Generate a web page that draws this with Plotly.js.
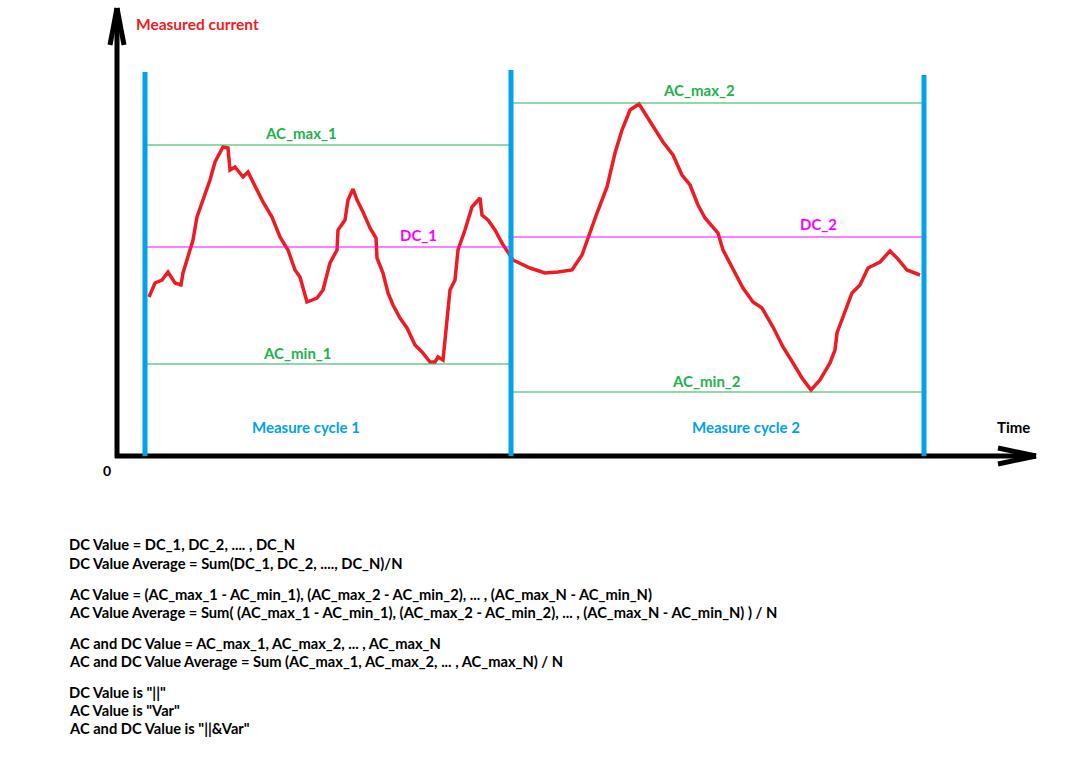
<!DOCTYPE html>
<html><head><meta charset="utf-8">
<script src="https://cdn.plot.ly/plotly-3.0.1.min.js"></script>
<style>html,body{margin:0;padding:0;background:#fff;}#chart{width:1072px;height:757px;}</style>
</head><body><div id="chart"></div>
<script>
// measured current curve (time, current) (pixel-space units)
const curveT = [149,155,162,168,175,181,183,188,193,197,203,210,215,223,228,230,235,243,248,257,263,272,280,288,295,300,307,317,323,330,337,338,345,348,353,357,363,370,376,377,383,388,393,400,407,415,422,430,435,438,443,447,450,455,458,465,472,480,482,488,495,502,508,513,530,545,558,572,582,588,597,607,615,622,630,639,647,657,663,673,682,690,698,705,718,723,735,743,753,762,773,783,793,802,811,820,830,835,837,843,852,860,868,880,890,897,907,920];
const curveI = [297,283,280,272,283,285,273,257,240,217,200,180,162,147,148,170,167,177,172,190,202,217,237,250,270,277,302,298,290,263,250,230,220,200,189,200,212,228,238,258,273,293,305,318,328,345,352,362,362,357,360,320,290,280,250,230,207,198,215,220,230,243,253,260,268,273,272,270,255,238,213,187,153,130,110,104,117,132,142,155,175,185,205,218,233,250,273,288,302,308,327,347,363,378,390,380,363,350,333,317,293,285,268,262,251,258,270,275];

// measure cycles: boundaries and levels
const cycleTop   = [72, 70, 75];
const boundaryX  = [145, 511, 924];
const acMax = [145, 103];
const acMin = [364, 392];
const dcLvl = [247, 237];
const levelStart = [145, 513];
const dcStart = [145, 508];
const levelEnd = [509, 922];
const acMaxNames = ["AC_max_1", "AC_max_2"];
const acMinNames = ["AC_min_1", "AC_min_2"];
const dcNames = ["DC_1", "DC_2"];
const acMaxLabelX = [301, 699];
const acMinLabelX = [297, 706];
const dcLabelX = [418, 818];
const cycleNames = ["Measure cycle 1", "Measure cycle 2"];
const cycleLabelX = [306, 746];
const axisOrigin = [117, 456];

const notes = [
  "DC Value = DC_1, DC_2, .... , DC_N",
  "DC Value Average = Sum(DC_1, DC_2, ...., DC_N)/N",
  "AC Value = (AC_max_1 - AC_min_1), (AC_max_2 - AC_min_2), ... , (AC_max_N - AC_min_N)",
  "AC Value Average = Sum( (AC_max_1 - AC_min_1), (AC_max_2 - AC_min_2), ... , (AC_max_N - AC_min_N) ) / N",
  "AC and DC Value = AC_max_1, AC_max_2, ... , AC_max_N",
  "AC and DC Value Average = Sum (AC_max_1, AC_max_2, ... , AC_max_N) / N",
  "DC Value is \"||\"",
  "AC Value is \"Var\"",
  "AC and DC Value is \"||&Var\""
];
const noteY = [544, 563, 594, 612, 643, 661, 692, 710, 728];

const RED = "#ED1C24", BLUE = "#00A2E8", GREEN = "#22B14C", MAG = "#FF00FF";
const FONT = "Lato, 'Open Sans', sans-serif";

const shapes = [];
const line = (x0,y0,x1,y1,color,width) => shapes.push({type:"line",xref:"x",yref:"y",x0,y0,x1,y1,line:{color,width}});

// axes
line(axisOrigin[0], axisOrigin[1]+2, axisOrigin[0], 8, "#000", 5);
line(axisOrigin[0], 8, 110, 45, "#000", 5);
line(axisOrigin[0], 8, 124, 45, "#000", 5);
line(axisOrigin[0]-2, axisOrigin[1], 1036, axisOrigin[1], "#000", 5);
line(1036, axisOrigin[1], 998, 448, "#000", 5);
line(1036, axisOrigin[1], 998, 464, "#000", 5);

// levels
for (let i = 0; i < 2; i++) {
  line(levelStart[i], acMax[i], levelEnd[i], acMax[i], GREEN, 1);
  line(levelStart[i]-2, acMin[i], levelEnd[i], acMin[i], GREEN, 1);
  line(dcStart[i], dcLvl[i], levelEnd[i], dcLvl[i], MAG, 1);
}
// cycle boundaries
for (let i = 0; i < 3; i++) line(boundaryX[i], cycleTop[i], boundaryX[i], axisOrigin[1], BLUE, 5);

const ann = [];
const txt = (x,y,text,color,size,anchor) => ann.push({xref:"x",yref:"y",x,y,text,showarrow:false,xanchor:anchor||"center",yanchor:"middle",font:{family:FONT,size:size||15,color,weight:700}});
for (let i = 0; i < 2; i++) {
  txt(acMaxLabelX[i], i ? 90 : 133, acMaxNames[i], GREEN);
  txt(acMinLabelX[i], i ? 381 : 353, acMinNames[i], GREEN);
  txt(dcLabelX[i], i ? 224 : 235, dcNames[i], MAG);
  txt(cycleLabelX[i], 427, cycleNames[i], BLUE);
}
txt(197, 24, "Measured current", RED, 15.5);
txt(1013, 427, "Time", "#000");
txt(107, 470, "0", "#000", 14);
notes.forEach((n,i) => txt(67, noteY[i], n, "#000", 14.7, "left"));

const traces = [{
  x: curveT, y: curveI, mode: "lines", type: "scatter",
  line: {color: RED, width: 3.5}, hoverinfo: "skip"
}];

Plotly.newPlot("chart", traces, {
  width: 1072, height: 757,
  margin: {l:0, r:0, t:0, b:0},
  paper_bgcolor: "#fff", plot_bgcolor: "#fff",
  showlegend: false,
  xaxis: {range:[0,1072], visible:false, fixedrange:true},
  yaxis: {range:[757,0], visible:false, fixedrange:true},
  shapes: shapes, annotations: ann
}, {displayModeBar:false, staticPlot:true});
</script></body></html>
